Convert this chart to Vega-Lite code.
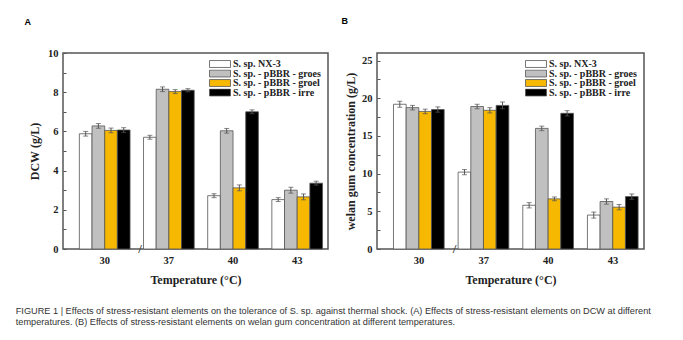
{
  "$schema": "https://vega.github.io/schema/vega-lite/v6.json",
  "background": "white",
  "padding": {"left": 15, "top": 16, "right": 5, "bottom": 5},
  "datasets": {
    "dcw": [
      {"temp": "30", "strain": "S. sp. NX-3", "value": 5.88, "lo": 5.76, "hi": 6.0},
      {"temp": "30", "strain": "S. sp. - pBBR - groes", "value": 6.28, "lo": 6.16, "hi": 6.4},
      {"temp": "30", "strain": "S. sp. - pBBR - groel", "value": 6.05, "lo": 5.93, "hi": 6.17},
      {"temp": "30", "strain": "S. sp. - pBBR - irre", "value": 6.07, "lo": 5.95, "hi": 6.19},
      {"temp": "37", "strain": "S. sp. NX-3", "value": 5.7, "lo": 5.6, "hi": 5.8},
      {"temp": "37", "strain": "S. sp. - pBBR - groes", "value": 8.15, "lo": 8.03, "hi": 8.27},
      {"temp": "37", "strain": "S. sp. - pBBR - groel", "value": 8.03, "lo": 7.93, "hi": 8.13},
      {"temp": "37", "strain": "S. sp. - pBBR - irre", "value": 8.1, "lo": 8.02, "hi": 8.18},
      {"temp": "40", "strain": "S. sp. NX-3", "value": 2.72, "lo": 2.62, "hi": 2.82},
      {"temp": "40", "strain": "S. sp. - pBBR - groes", "value": 6.03, "lo": 5.91, "hi": 6.15},
      {"temp": "40", "strain": "S. sp. - pBBR - groel", "value": 3.12, "lo": 2.97, "hi": 3.27},
      {"temp": "40", "strain": "S. sp. - pBBR - irre", "value": 7.0, "lo": 6.9, "hi": 7.1},
      {"temp": "43", "strain": "S. sp. NX-3", "value": 2.52, "lo": 2.42, "hi": 2.62},
      {"temp": "43", "strain": "S. sp. - pBBR - groes", "value": 3.0, "lo": 2.85, "hi": 3.15},
      {"temp": "43", "strain": "S. sp. - pBBR - groel", "value": 2.66, "lo": 2.51, "hi": 2.81},
      {"temp": "43", "strain": "S. sp. - pBBR - irre", "value": 3.36, "lo": 3.26, "hi": 3.46}
    ],
    "welan": [
      {"temp": "30", "strain": "S. sp. NX-3", "value": 19.2, "lo": 18.8, "hi": 19.6},
      {"temp": "30", "strain": "S. sp. - pBBR - groes", "value": 18.75, "lo": 18.45, "hi": 19.05},
      {"temp": "30", "strain": "S. sp. - pBBR - groel", "value": 18.25, "lo": 17.95, "hi": 18.55},
      {"temp": "30", "strain": "S. sp. - pBBR - irre", "value": 18.5, "lo": 18.15, "hi": 18.85},
      {"temp": "37", "strain": "S. sp. NX-3", "value": 10.2, "lo": 9.85, "hi": 10.55},
      {"temp": "37", "strain": "S. sp. - pBBR - groes", "value": 18.9, "lo": 18.6, "hi": 19.2},
      {"temp": "37", "strain": "S. sp. - pBBR - groel", "value": 18.4, "lo": 18.05, "hi": 18.75},
      {"temp": "37", "strain": "S. sp. - pBBR - irre", "value": 19.05, "lo": 18.6, "hi": 19.5},
      {"temp": "40", "strain": "S. sp. NX-3", "value": 5.8, "lo": 5.45, "hi": 6.15},
      {"temp": "40", "strain": "S. sp. - pBBR - groes", "value": 16.0, "lo": 15.7, "hi": 16.3},
      {"temp": "40", "strain": "S. sp. - pBBR - groel", "value": 6.65, "lo": 6.4, "hi": 6.9},
      {"temp": "40", "strain": "S. sp. - pBBR - irre", "value": 18.0, "lo": 17.65, "hi": 18.35},
      {"temp": "43", "strain": "S. sp. NX-3", "value": 4.5, "lo": 4.1, "hi": 4.9},
      {"temp": "43", "strain": "S. sp. - pBBR - groes", "value": 6.3, "lo": 5.95, "hi": 6.65},
      {"temp": "43", "strain": "S. sp. - pBBR - groel", "value": 5.55, "lo": 5.2, "hi": 5.9},
      {"temp": "43", "strain": "S. sp. - pBBR - irre", "value": 6.95, "lo": 6.6, "hi": 7.3}
    ],
    "brk": [{"temp": "30", "v": 0, "s": "/"}]
  },
  "title": {
    "text": [
      "FIGURE 1 | Effects of stress-resistant elements on the tolerance of S. sp. against thermal shock. (A) Effects of stress-resistant elements on DCW at different",
      "temperatures. (B) Effects of stress-resistant elements on welan gum concentration at different temperatures."
    ],
    "orient": "bottom",
    "anchor": "start",
    "font": "Liberation Sans",
    "fontSize": 9.2,
    "fontWeight": "normal",
    "color": "#333333",
    "offset": 21,
    "dx": -8,
    "lineHeight": 11
  },
  "spacing": 11,
  "hconcat": [
    {
      "width": 265,
      "height": 196,
      "title": {"text": "A", "anchor": "start", "frame": "bounds", "dx": -4, "offset": 21, "font": "Liberation Sans", "fontSize": 9, "fontWeight": "bold", "color": "#000000"},
      "layer": [
        {
          "data": {"name": "dcw"},
          "layer": [
            {
              "mark": {"type": "bar", "stroke": "#555555", "strokeWidth": 0.8},
              "encoding": {
                "y": {"field": "value", "type": "quantitative", "scale": {"domain": [0, 10]},
                  "axis": {"title": "DCW (g/L)", "values": [0, 1, 2, 3, 4, 5, 6, 7, 8, 9, 10], "tickCount": 30, "format": "d", "labelExpr": "datum.value % 2 == 0 ? datum.label : ''", "labelOverlap": false, "tickSize": -3, "grid": false, "domain": false, "labelPadding": 8, "titlePadding": 6}},
                "color": {"field": "strain", "type": "nominal", "sort": ["S. sp. NX-3", "S. sp. - pBBR - groes", "S. sp. - pBBR - groel", "S. sp. - pBBR - irre"],
                  "scale": {"range": ["#ffffff", "#c0c0c0", "#f6b800", "#000000"]},
                  "legend": {"orient": "top-right", "title": null, "offset": 5}}
              }
            },
            {"mark": {"type": "rule", "color": "#555555", "strokeWidth": 1}, "encoding": {"y": {"field": "lo", "type": "quantitative"}, "y2": {"field": "hi"}}},
            {"mark": {"type": "tick", "color": "#555555", "size": 5, "thickness": 1}, "encoding": {"y": {"field": "lo", "type": "quantitative"}}},
            {"mark": {"type": "tick", "color": "#555555", "size": 5, "thickness": 1}, "encoding": {"y": {"field": "hi", "type": "quantitative"}}}
          ],
          "encoding": {
            "x": {"field": "temp", "type": "nominal", "scale": {"paddingInner": 0.21, "paddingOuter": 0.17, "align": 0.75},
              "axis": {"title": "Temperature (°C)", "labelAngle": 0, "ticks": false, "domain": false, "labelPadding": 6, "titlePadding": 9}},
            "xOffset": {"field": "strain", "type": "nominal", "sort": ["S. sp. NX-3", "S. sp. - pBBR - groes", "S. sp. - pBBR - groel", "S. sp. - pBBR - irre"], "scale": {"paddingInner": 0, "paddingOuter": 0}}
          }
        },
        {
          "data": {"name": "brk"},
          "mark": {"type": "text", "font": "Liberation Serif", "fontSize": 13, "fontWeight": "bold", "color": "#444444", "baseline": "middle", "dx": 10},
          "encoding": {
            "x": {"field": "temp", "type": "nominal", "bandPosition": 1},
            "y": {"field": "v", "type": "quantitative"},
            "text": {"field": "s"}
          }
        }
      ]
    },
    {
      "width": 267,
      "height": 196,
      "title": {"text": "B", "anchor": "start", "frame": "bounds", "dx": -3, "offset": 27, "font": "Liberation Sans", "fontSize": 9, "fontWeight": "bold", "color": "#000000"},
      "layer": [
        {
          "data": {"name": "welan"},
          "layer": [
            {
              "mark": {"type": "bar", "stroke": "#555555", "strokeWidth": 0.8},
              "encoding": {
                "y": {"field": "value", "type": "quantitative", "scale": {"domain": [0, 25]},
                  "axis": {"title": "welan gum concentration (g/L)", "values": [0, 2.5, 5, 7.5, 10, 12.5, 15, 17.5, 20, 22.5, 25], "tickCount": 30, "format": "d", "labelExpr": "datum.value % 5 == 0 ? datum.label : ''", "labelOverlap": false, "tickSize": -3, "grid": false, "domain": false, "labelPadding": 8, "titlePadding": 4}},
                "color": {"field": "strain", "type": "nominal", "sort": ["S. sp. NX-3", "S. sp. - pBBR - groes", "S. sp. - pBBR - groel", "S. sp. - pBBR - irre"],
                  "scale": {"range": ["#ffffff", "#c0c0c0", "#f6b800", "#000000"]},
                  "legend": {"orient": "top-right", "title": null, "offset": 5}}
              }
            },
            {"mark": {"type": "rule", "color": "#555555", "strokeWidth": 1}, "encoding": {"y": {"field": "lo", "type": "quantitative"}, "y2": {"field": "hi"}}},
            {"mark": {"type": "tick", "color": "#555555", "size": 5, "thickness": 1}, "encoding": {"y": {"field": "lo", "type": "quantitative"}}},
            {"mark": {"type": "tick", "color": "#555555", "size": 5, "thickness": 1}, "encoding": {"y": {"field": "hi", "type": "quantitative"}}}
          ],
          "encoding": {
            "x": {"field": "temp", "type": "nominal", "scale": {"paddingInner": 0.21, "paddingOuter": 0.17, "align": 0.75},
              "axis": {"title": "Temperature (°C)", "labelAngle": 0, "ticks": false, "domain": false, "labelPadding": 6, "titlePadding": 9}},
            "xOffset": {"field": "strain", "type": "nominal", "sort": ["S. sp. NX-3", "S. sp. - pBBR - groes", "S. sp. - pBBR - groel", "S. sp. - pBBR - irre"], "scale": {"paddingInner": 0, "paddingOuter": 0}}
          }
        },
        {
          "data": {"name": "brk"},
          "mark": {"type": "text", "font": "Liberation Serif", "fontSize": 13, "fontWeight": "bold", "color": "#444444", "baseline": "middle", "dx": 10},
          "encoding": {
            "x": {"field": "temp", "type": "nominal", "bandPosition": 1},
            "y": {"field": "v", "type": "quantitative"},
            "text": {"field": "s"}
          }
        }
      ]
    }
  ],
  "resolve": {"scale": {"color": "independent"}},
  "config": {
    "view": {"stroke": "#555555", "strokeWidth": 1.5},
    "axis": {
      "labelFont": "Liberation Serif", "labelFontSize": 10.5, "labelFontWeight": "bold", "labelColor": "#222222",
      "titleFont": "Liberation Serif", "titleFontSize": 12, "titleFontWeight": "bold", "titleColor": "#222222",
      "tickColor": "#555555"
    },
    "legend": {
      "labelFont": "Liberation Serif", "labelFontSize": 10, "labelFontWeight": "bold", "labelColor": "#222222", "labelLimit": 0,
      "symbolType": "M-1,-0.33H1V0.33H-1Z", "symbolSize": 441, "symbolStrokeColor": "#555555", "symbolStrokeWidth": 0.8,
      "clipHeight": 8, "rowPadding": -0.5, "labelOffset": 2, "padding": 2
    }
  }
}
